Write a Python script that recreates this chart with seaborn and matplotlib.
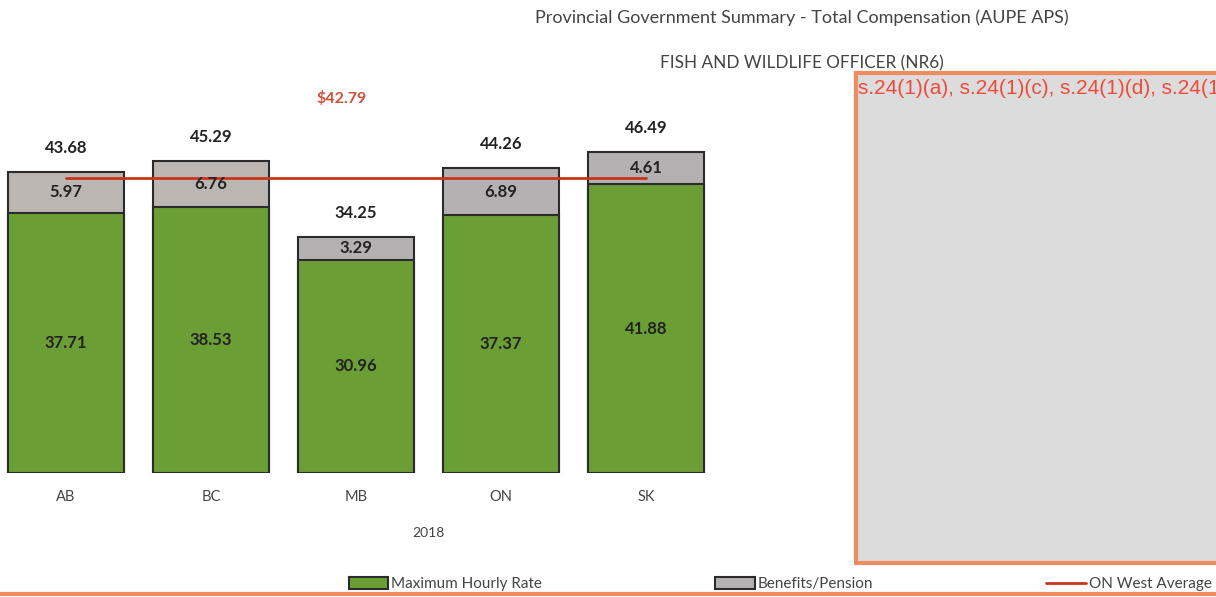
import pandas as pd
import seaborn as sns
import matplotlib.pyplot as plt
from matplotlib.patches import Patch, Rectangle
from matplotlib.lines import Line2D

# values
provinces = ["AB", "BC", "MB", "ON", "SK"]
max_hourly = [37.71, 38.53, 30.96, 37.37, 41.88]
benefits = [5.97, 6.76, 3.29, 6.89, 4.61]
totals = [43.68, 45.29, 34.25, 44.26, 46.49]
west_avg = 42.79

df = pd.DataFrame({"Province": provinces, "Max": max_hourly,
                   "Benefits": benefits, "Total": totals})

sns.set_theme(style="white")
plt.rcParams["font.family"] = ["Lato", "DejaVu Sans"]

W, H = 1216, 597
fig = plt.figure(figsize=(W / 100, H / 100), dpi=100)
ax = fig.add_axes([0, (H - 473) / H, 720 / W, (473 - 80) / H])

green = "#6b9e35"
grey = ["#bdb6b2", "#bdb6b2", "#b3b1b1", "#b3b1b1", "#b3b1b1"]

# totals (grey) drawn first, then the hourly rate over it
sns.barplot(data=df, x="Province", y="Total", hue="Province", palette=grey,
            legend=False, width=0.8, edgecolor="#2b2b2b", linewidth=1.5, ax=ax)
sns.barplot(data=df, x="Province", y="Max", color=green, width=0.8,
            edgecolor="#2b2b2b", linewidth=1.5, saturation=1, ax=ax)

ax.plot([0, len(provinces) - 1], [west_avg, west_avg], color="#c8341c", lw=2)
ax.text(1.9, 54.3, "\\$" + f"{west_avg:.2f}", color="#d0503a", fontsize=11.5,
        fontweight="bold", ha="center", va="center")

for i in range(len(provinces)):
    ax.text(i, totals[i] + 3.5, f"{totals[i]:.2f}", ha="center", va="center",
            fontsize=12, fontweight="bold", color="#222222")
    ax.text(i, max_hourly[i] + benefits[i] / 2, f"{benefits[i]:.2f}", ha="center",
            va="center", fontsize=12, fontweight="bold", color="#222222")
    ax.text(i, max_hourly[i] / 2, f"{max_hourly[i]:.2f}", ha="center",
            va="center", fontsize=12, fontweight="bold", color="#222222")

ax.set_xlim(-0.455, 4.51)
ax.set_ylim(0, 57)
ax.set_yticks([])
ax.set_ylabel("")
ax.set_xlabel("2018", fontsize=10, color="#444444")
ax.xaxis.set_label_coords(428 / 720, (473 - 527) / 393)
ax.tick_params(axis="x", length=0, labelsize=10.5, labelcolor="#444444", pad=12)
sns.despine(ax=ax, left=True, bottom=True)

fig.text(802 / W, 1 - 18 / H,
         "Provincial Government Summary - Total Compensation (AUPE APS)",
         ha="center", va="center", fontsize=13, color="#444444")
fig.text(802 / W, 1 - 63 / H, "FISH AND WILDLIFE OFFICER (NR6)",
         ha="center", va="center", fontsize=12.3, color="#444444")

# redaction box on the right
fig.patches.append(Rectangle((856 / W, (H - 563) / H), (W - 856) / W + 0.01,
                             (563 - 73) / H, transform=fig.transFigure,
                             facecolor="#dcdcdc", edgecolor="#f08a60", lw=3))
fig.text(858 / W, 1 - 88 / H, "s.24(1)(a), s.24(1)(c), s.24(1)(d), s.24(1)(e)",
         ha="left", va="center", fontsize=15, color="#f04a3a",
         family=["Liberation Sans", "DejaVu Sans"])
fig.lines.append(Line2D([0, 1], [1 - 594 / H, 1 - 594 / H],
                        transform=fig.transFigure, color="#f08a60", lw=3))

handles = [Patch(facecolor=green, edgecolor="#2b2b2b", lw=1.5),
           Patch(facecolor="#b3b1b1", edgecolor="#2b2b2b", lw=1.5),
           Line2D([0], [0], color="#c8341c", lw=2)]
fig.legend(handles, ["Maximum Hourly Rate", "Benefits/Pension", "ON West Average"],
           loc="center", bbox_to_anchor=(780 / W, 1 - 584 / H), ncol=3,
           frameon=False, fontsize=11, labelcolor="#444444", handlelength=2.6,
           handleheight=0.8, handletextpad=0.2, columnspacing=11.3,
           borderpad=0, borderaxespad=0)

fig.savefig("out.png", dpi=100)
